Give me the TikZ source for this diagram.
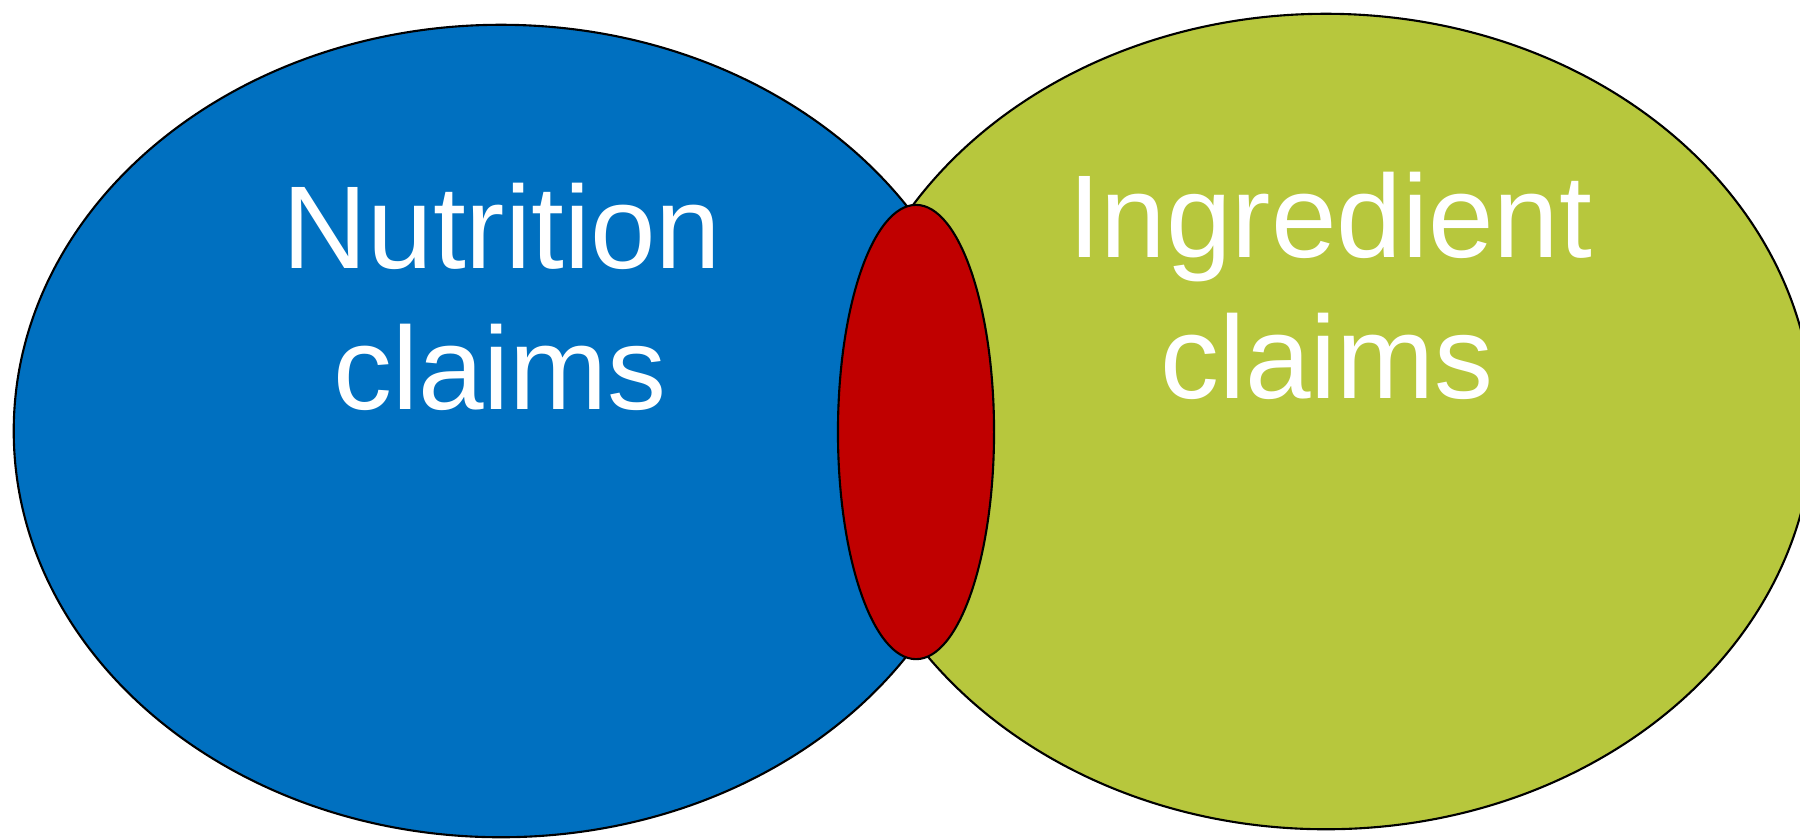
\documentclass[tikz,border=0pt]{standalone}
\usepackage{fontspec}
\setmainfont{Liberation Sans}
\definecolor{nutblue}{HTML}{0070C0}
\definecolor{ingreen}{HTML}{B7C73D}
\definecolor{overred}{HTML}{C00000}
\begin{document}
\begin{tikzpicture}[x=0.01cm,y=-0.01cm,
  setshape/.style={draw=black,line width=0.6pt},
  label/.style={text=white,anchor=base,inner sep=0pt,font=\fontsize{33.5}{40}\selectfont}]
\useasboundingbox (0,0) rectangle (1800,838);
\clip (0,0) rectangle (1800,838);
\fill[white] (0,0) rectangle (1800,838);
\draw[setshape,fill=nutblue] (501,431) ellipse [x radius=4.87cm, y radius=4.06cm];
\draw[setshape,fill=ingreen] (1326,421.5) ellipse [x radius=4.87cm, y radius=4.075cm];
\draw[setshape,fill=overred] (916,432) ellipse [x radius=0.78cm, y radius=2.27cm];
\node[label] (nut1) at (502,268) {Nutrition};
\node[label] (nut2) at (500,409) {claims};
\node[label] (ing1) at (1330,257) {Ingredient};
\node[label] (ing2) at (1327,398) {claims};
\end{tikzpicture}
\end{document}
